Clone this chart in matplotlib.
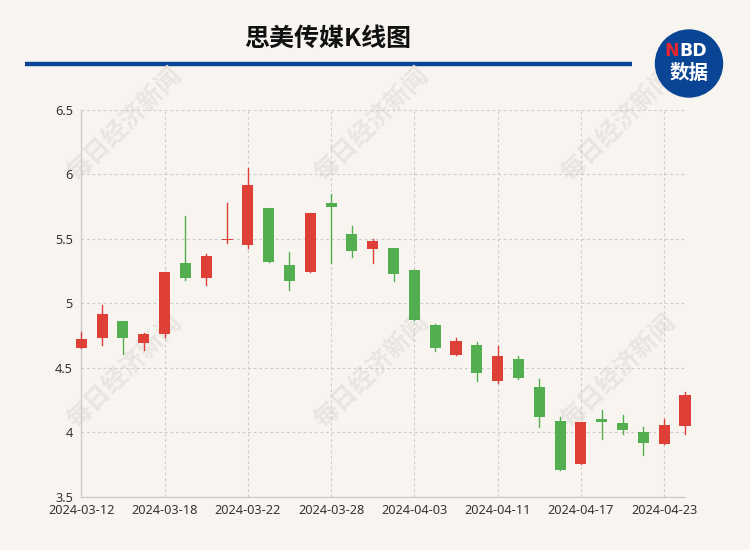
import matplotlib
matplotlib.use("Agg")
import matplotlib.pyplot as plt
from matplotlib.patches import Circle, Rectangle

plt.rcParams['font.family'] = ['Noto Sans CJK SC', 'DejaVu Sans']

dates = ["2024-03-12", "2024-03-13", "2024-03-14", "2024-03-15", "2024-03-18",
         "2024-03-19", "2024-03-20", "2024-03-21", "2024-03-22", "2024-03-25",
         "2024-03-26", "2024-03-27", "2024-03-28", "2024-03-29", "2024-04-01",
         "2024-04-02", "2024-04-03", "2024-04-08", "2024-04-09", "2024-04-10",
         "2024-04-11", "2024-04-12", "2024-04-15", "2024-04-16", "2024-04-17",
         "2024-04-18", "2024-04-19", "2024-04-22", "2024-04-23", "2024-04-24"]
open_ = [4.65, 4.73, 4.86, 4.69, 4.76, 5.31, 5.20, 5.49, 5.45, 5.74,
         5.30, 5.24, 5.78, 5.54, 5.42, 5.43, 5.26, 4.83, 4.60, 4.68,
         4.40, 4.57, 4.35, 4.09, 3.75, 4.10, 4.07, 4.00, 3.91, 4.05]
close = [4.72, 4.92, 4.73, 4.76, 5.24, 5.20, 5.37, 5.50, 5.92, 5.32,
         5.17, 5.70, 5.75, 5.41, 5.48, 5.23, 4.87, 4.65, 4.71, 4.46,
         4.59, 4.42, 4.12, 3.71, 4.08, 4.08, 4.02, 3.92, 4.06, 4.29]
high = [4.78, 4.99, 4.86, 4.77, 5.24, 5.68, 5.38, 5.78, 6.05, 5.74,
        5.40, 5.70, 5.85, 5.60, 5.50, 5.43, 5.26, 4.84, 4.73, 4.70,
        4.67, 4.59, 4.41, 4.12, 4.08, 4.17, 4.13, 4.04, 4.10, 4.31]
low = [4.65, 4.68, 4.61, 4.64, 4.74, 5.18, 5.14, 5.47, 5.43, 5.32,
       5.10, 5.24, 5.31, 5.36, 5.31, 5.17, 4.87, 4.63, 4.60, 4.40,
       4.38, 4.41, 4.04, 3.71, 3.75, 3.95, 3.99, 3.82, 3.91, 3.99]
y_ticks = [3.5, 4, 4.5, 5, 5.5, 6, 6.5]
y_tick_labels = ["3.5", "4", "4.5", "5", "5.5", "6", "6.5"]
title = "思美传媒K线图"
watermark = "每日经济新闻"

BG = "#f8f5f1"
RED = "#de3f37"
GREEN = "#53ae50"

fig = plt.figure(figsize=(7.5, 5.5), dpi=100, facecolor=BG)

# overlay in pixel coordinates (behind chart)
ov = fig.add_axes([0, 0, 1, 1], zorder=0)
ov.set_xlim(0, 750)
ov.set_ylim(550, 0)
ov.axis("off")
ov.patch.set_alpha(0)

for cy in (125, 372):
    for cx in (125, 372, 619):
        ov.text(cx, cy, watermark, rotation=45, ha="center", va="center",
                fontsize=18, fontweight="bold", color="#e9e5e1")

ov.text(328, 39, title, ha="center", va="center", fontsize=18,
        fontweight="bold", color="#111111")
ov.plot([25, 632], [63.5, 63.5], color="#0a4595", lw=3.2, solid_capstyle="butt")

ov.add_patch(Circle((689, 63.5), 33.5, color="#0a4595", zorder=3))
ov.text(679, 51, "N", ha="right", va="center", fontsize=12.5, fontweight="bold",
        color="#e8262d", family=["DejaVu Sans"], zorder=4)
ov.text(679, 51, "BD", ha="left", va="center", fontsize=12.5, fontweight="bold",
        color="white", family=["DejaVu Sans"], zorder=4)
ov.text(689, 73, "数据", ha="center", va="center", fontsize=14, fontweight="bold",
        color="white", zorder=4)

# main chart
L, R, T, B = 81.3, 685, 110, 496.7
ax = fig.add_axes([L / 750, 1 - B / 550, (R - L) / 750, (B - T) / 550], zorder=1)
ax.patch.set_alpha(0)

x = list(range(len(dates)))
w = 0.53
for i in x:
    o, c, h, l = open_[i], close[i], high[i], low[i]
    col = RED if c >= o else GREEN
    ax.plot([i, i], [l, h], color=col, lw=1.0, zorder=3, clip_on=False)
    bottom = min(o, c)
    height = max(abs(c - o), 0.008)
    ax.add_patch(Rectangle((i - w / 2, bottom), w, height, facecolor=col,
                           edgecolor="none", zorder=4, clip_on=False))

ax.set_xlim(0, len(dates) - 1)
ax.set_ylim(3.5, 6.5)
ax.set_yticks(y_ticks)
ax.set_yticklabels(y_tick_labels)
tick_idx = list(range(0, len(dates), 4))
ax.set_xticks(tick_idx)
ax.set_xticklabels([dates[i] for i in tick_idx])

for lab in ax.get_xticklabels() + ax.get_yticklabels():
    lab.set_fontfamily(["Noto Sans", "DejaVu Sans"])
    lab.set_fontsize(9.2)
    lab.set_color("#333333")
ax.tick_params(axis="both", length=0)
ax.tick_params(axis="y", pad=6)
ax.tick_params(axis="x", pad=5)

ax.grid(True, color="#cccccc", linestyle=(0, (2.5, 2.5)), lw=0.8, zorder=0)
for s in ("top", "right"):
    ax.spines[s].set_visible(False)
for s in ("left", "bottom"):
    ax.spines[s].set_color("#cccccc")
    ax.spines[s].set_linewidth(1.0)

fig.savefig("out.png", dpi=100, facecolor=BG)
